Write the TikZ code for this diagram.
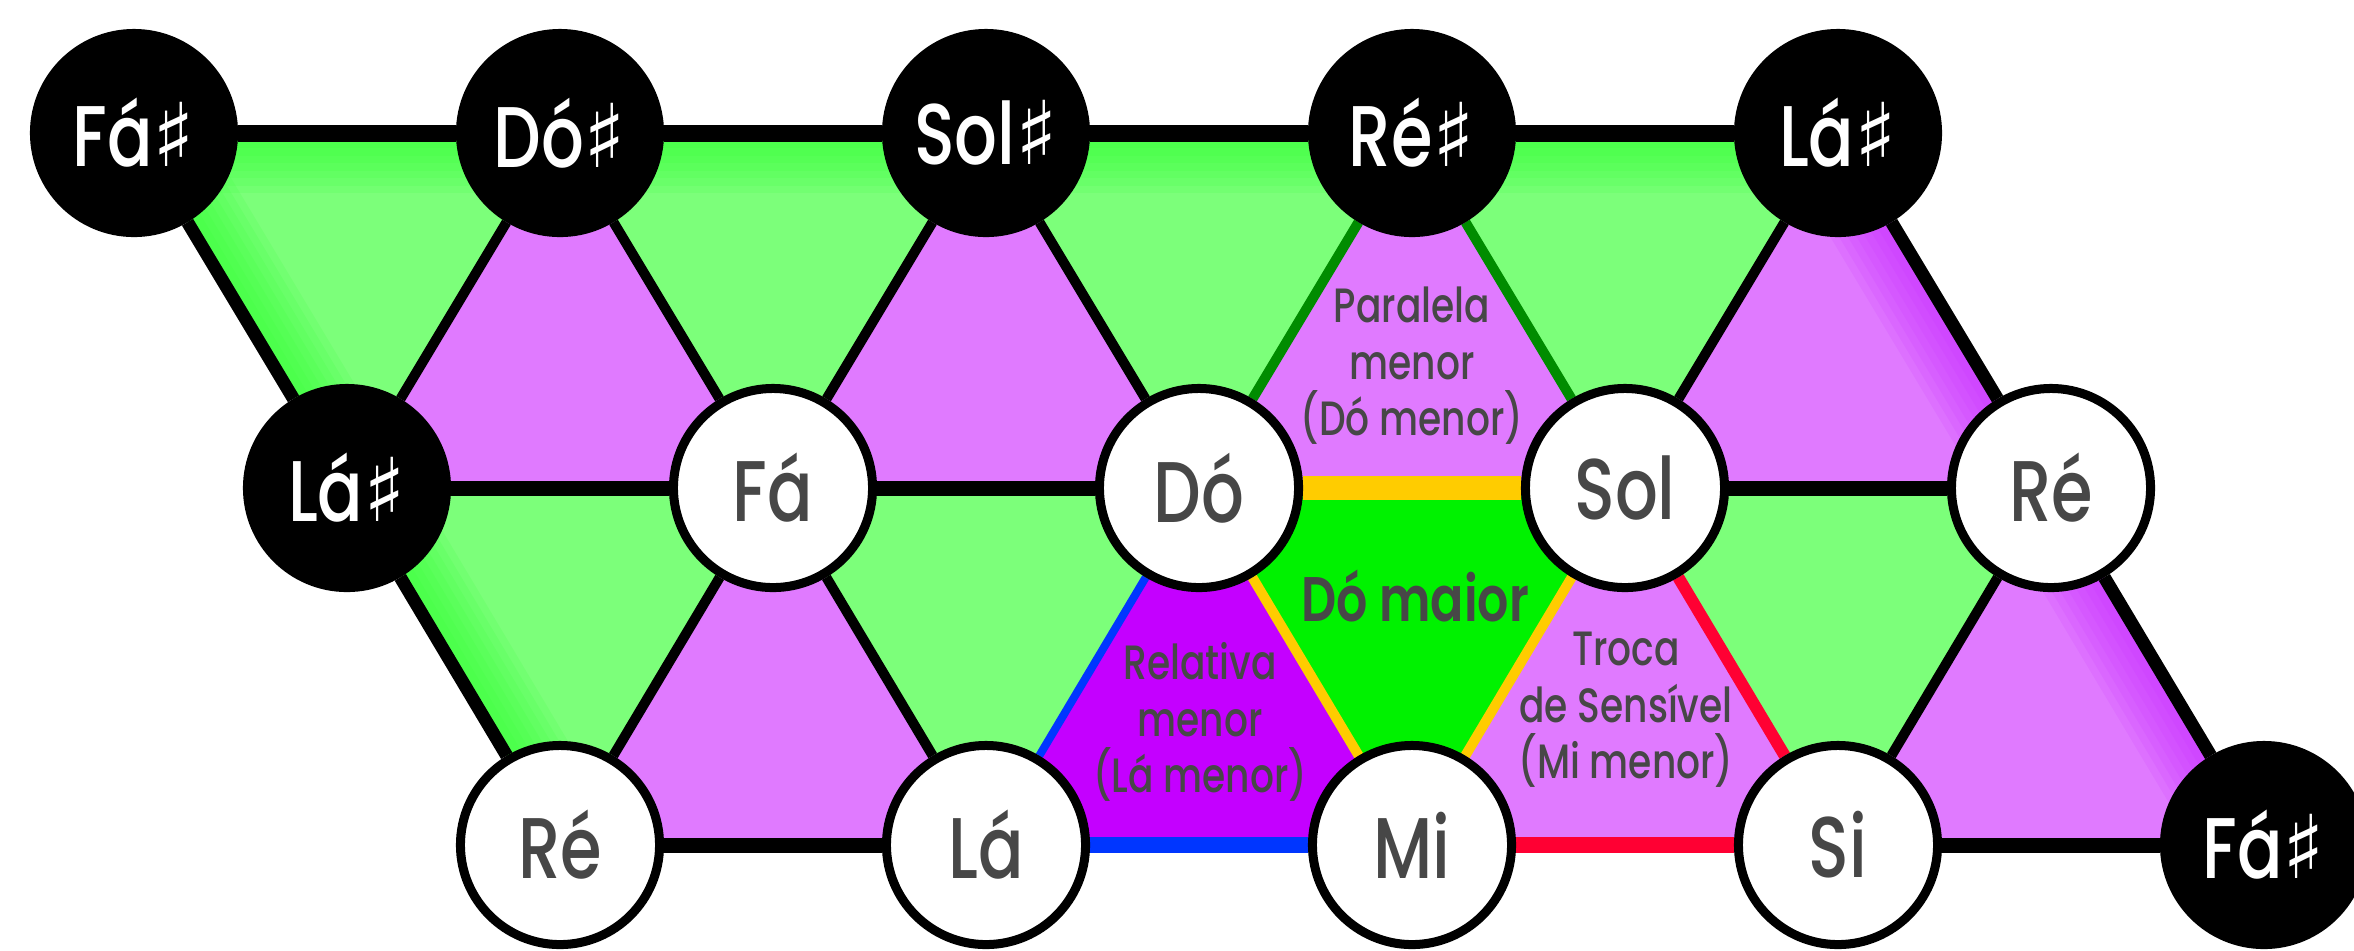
\documentclass[tikz,border=0pt]{standalone}
\usepackage{fontspec}
\setmainfont{Poppins}[FakeStretch=0.78, UprightFont=* Medium, BoldFont=* SemiBold]
\newfontfamily\sharpfont{DejaVu Sans}
\usetikzlibrary{calc}

\pgfdeclarelayer{fills}
\pgfdeclarelayer{edges}
\pgfsetlayers{fills,edges,main}

\definecolor{lgreen}{HTML}{7CFF7A}
\definecolor{glowgreen}{HTML}{30FF30}
\definecolor{lpurple}{HTML}{E07AFF}
\definecolor{glowpurple}{HTML}{C828FF}
\definecolor{dpurple}{HTML}{C400FF}
\definecolor{majgreen}{HTML}{00F200}
\definecolor{gold}{HTML}{FFCC00}
\definecolor{relblue}{HTML}{0036FF}
\definecolor{trred}{HTML}{FF0033}
\definecolor{pargreen}{HTML}{008C00}
\definecolor{ink}{HTML}{474747}

% sharp sign taken from DejaVu Sans
\newcommand\shrp{{\sharpfont\fontsize{25}{25}\selectfont ♯}}

% soft colour glow along the side #2--#3 of triangle #2 #3 #4
\newcommand\glowedge[4]{%
  \begin{scope}
    \clip (#2.center) -- (#3.center) -- (#4.center) -- cycle;
    \foreach \w in {1.2cm,1.05cm,0.9cm,0.75cm,0.6cm,0.45cm,0.3cm}
      \draw[#1, opacity=0.12, line width=\w] (#2.center) -- (#3.center);
  \end{scope}}

\tikzset{
  note/.style={circle, minimum size=1.99cm, inner sep=0pt, line width=0.09cm,
               font=\fontsize{24.5}{24.5}\selectfont},
  wnote/.style={note, draw=black, fill=white, text=ink},
  bnote/.style={note, draw=black, fill=black, text=white},
  hline/.style={black, line width=0.15cm},
  outer/.style={black, line width=0.13cm},
  inner/.style={black, line width=0.10cm},
  lbl/.style={align=center, text=ink, font=\fontsize{13.7}{16.1}\selectfont},
}

\begin{document}
\begin{tikzpicture}[x=0.01cm, y=-0.01cm]
\useasboundingbox (0,0) rectangle (2354,950);

% top row
\node[bnote] (fisA) at (134,133)  {Fá\shrp};
\node[bnote] (cis)  at (560,133)  {Dó\shrp};
\node[bnote] (gis)  at (986,133)  {Sol\shrp};
\node[bnote] (dis)  at (1412,133) {Ré\shrp};
\node[bnote] (aisA) at (1838,133) {Lá\shrp};
% middle row
\node[bnote] (aisB) at (347,488)  {Lá\shrp};
\node[wnote] (f)    at (773,488)  {Fá};
\node[wnote] (c)    at (1199,488) {Dó};
\node[wnote] (g)    at (1625,488) {Sol};
\node[wnote] (dB)   at (2051,488) {Ré};
% bottom row
\node[wnote] (dA)   at (560,845)  {Ré};
\node[wnote] (a)    at (986,845)  {Lá};
\node[wnote] (e)    at (1412,845) {Mi};
\node[wnote] (b)    at (1838,845) {Si};
\node[bnote] (fisB) at (2264,845) {Fá\shrp};

% chord names
\node[lbl] (parlbl) at (1412,366) {Paralela\\menor\\(Dó menor)};
\node[lbl] (rellbl) at (1200,722) {Relativa\\menor\\(Lá menor)};
\node[lbl] (trolbl) at (1626,710) {Troca\\de Sensível\\(Mi menor)};
\node[text=ink, font=\bfseries\fontsize{17.9}{17.9}\selectfont] (majlbl) at (1415,596) {Dó maior};

\begin{pgfonlayer}{fills}
  % upper band
  \fill[lgreen]  (fisA.center) -- (cis.center)  -- (aisB.center) -- cycle;
  \fill[lpurple] (aisB.center) -- (f.center)    -- (cis.center)  -- cycle;
  \fill[lgreen]  (cis.center)  -- (gis.center)  -- (f.center)    -- cycle;
  \fill[lpurple] (f.center)    -- (c.center)    -- (gis.center)  -- cycle;
  \fill[lgreen]  (gis.center)  -- (dis.center)  -- (c.center)    -- cycle;
  \fill[lpurple] (c.center)    -- (g.center)    -- (dis.center)  -- cycle;
  \fill[lgreen]  (dis.center)  -- (aisA.center) -- (g.center)    -- cycle;
  \fill[lpurple] (g.center)    -- (dB.center)   -- (aisA.center) -- cycle;
  % lower band
  \fill[lgreen]   (aisB.center) -- (f.center)    -- (dA.center) -- cycle;
  \fill[lpurple]  (dA.center)   -- (a.center)    -- (f.center)  -- cycle;
  \fill[lgreen]   (f.center)    -- (c.center)    -- (a.center)  -- cycle;
  \fill[dpurple]  (a.center)    -- (e.center)    -- (c.center)  -- cycle;
  \fill[majgreen] (c.center)    -- (g.center)    -- (e.center)  -- cycle;
  \fill[lpurple]  (e.center)    -- (b.center)    -- (g.center)  -- cycle;
  \fill[lgreen]   (g.center)    -- (dB.center)   -- (b.center)  -- cycle;
  \fill[lpurple]  (b.center)    -- (fisB.center) -- (dB.center) -- cycle;
  % glows along the outer border
  \glowedge{glowgreen}{fisA}{cis}{aisB}
  \glowedge{glowgreen}{cis}{gis}{f}
  \glowedge{glowgreen}{gis}{dis}{c}
  \glowedge{glowgreen}{dis}{aisA}{g}
  \glowedge{glowgreen}{fisA}{aisB}{cis}
  \glowedge{glowgreen}{aisB}{dA}{f}
  \glowedge{glowpurple}{aisA}{dB}{g}
  \glowedge{glowpurple}{dB}{fisB}{b}
\end{pgfonlayer}

\begin{pgfonlayer}{edges}
  % horizontal edges
  \draw[hline, line width=0.17cm] (fisA) -- (cis);
  \draw[hline, line width=0.17cm] (cis) -- (gis);
  \draw[hline, line width=0.17cm] (gis) -- (dis);
  \draw[hline, line width=0.17cm] (dis) -- (aisA);
  \draw[hline] (aisB) -- (f);
  \draw[hline] (f) -- (c);
  \draw[gold, line width=0.24cm] (c) -- (g);
  \draw[hline] (g) -- (dB);
  \draw[hline] (dA) -- (a);
  \draw[relblue, line width=0.16cm] (a) -- (e);
  \draw[trred, line width=0.16cm] (e) -- (b);
  \draw[hline] (b) -- (fisB);
  % upper band diagonals
  \draw[outer] (fisA) -- (aisB);
  \draw[inner] (aisB) -- (cis);
  \draw[inner] (cis) -- (f);
  \draw[inner] (f) -- (gis);
  \draw[inner] (gis) -- (c);
  \draw[pargreen, line width=0.10cm] (c) -- (dis);
  \draw[pargreen, line width=0.10cm] (dis) -- (g);
  \draw[inner] (g) -- (aisA);
  \draw[outer] (aisA) -- (dB);
  % lower band diagonals
  \draw[outer] (aisB) -- (dA);
  \draw[inner] (dA) -- (f);
  \draw[inner] (f) -- (a);
  \draw[relblue, line width=0.08cm] (a) -- (c);
  \draw[gold, line width=0.10cm] (c) -- (e);
  \draw[gold, line width=0.10cm] (e) -- (g);
  \draw[trred, line width=0.12cm] (g) -- (b);
  \draw[inner] (b) -- (dB);
  \draw[outer] (dB) -- (fisB);
\end{pgfonlayer}
\end{tikzpicture}
\end{document}
